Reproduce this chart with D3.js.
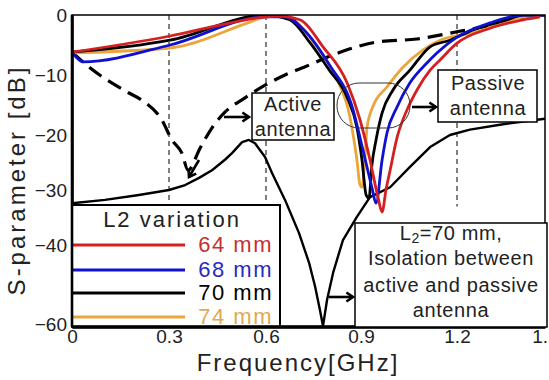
<!DOCTYPE html>
<html><head><meta charset="utf-8">
<script src="https://cdn.jsdelivr.net/npm/d3@7"></script>
<style>
html,body{margin:0;padding:0;background:#fff;}
svg{display:block;font-family:"Liberation Sans",Arial,sans-serif;}
</style></head>
<body><svg id="c" width="549" height="380"></svg>
<script>
// ---- data (frequency in GHz, S-parameter in dB) ----
const freqTicks = [0, 0.3, 0.6, 0.9, 1.2, 1.5];
const dbTicks = [0, -10, -20, -30, -40, -60];
const gridFreqs = [0.3, 0.6, 1.2];
const legendLabels = ["64 mm", "68 mm", "70 mm", "74 mm"];
const seriesColors = ["#d42020", "#1010d0", "#000000", "#eca43c"];
const legendTextColors = ["#c83030", "#2a2ac0", "#000000", "#e0aa50"];

const s11_64 = [[0,-6.2],[0.303,-3.5],[0.49,-1.3],[0.6,-0.3],[0.644,-0.2],[0.707,-0.8],[0.78,-5.3],[0.856,-11.3],[0.897,-17.5],[0.928,-24.5],[0.953,-31.3],[0.966,-34],[0.978,-30],[0.991,-26.4],[1.013,-20.4],[1.044,-15.8],[1.075,-12.5],[1.116,-9.2],[1.147,-7.5],[1.2,-4.7],[1.313,-2.2],[1.425,-0.8],[1.483,-0.3]];
const s11_68 = [[0,-6.2],[0.034,-7.8],[0.303,-5.0],[0.6,-0.3],[0.66,-0.3],[0.72,-2.5],[0.80,-8.3],[0.875,-15.8],[0.906,-22.7],[0.934,-29.5],[0.947,-32.4],[0.966,-24.5],[0.981,-19.7],[1.013,-15.3],[1.053,-11.3],[1.106,-8],[1.138,-6.3],[1.2,-3.7],[1.313,-1.3],[1.425,0],[1.5,0]];
const s11_70 = [[0,-6.2],[0.303,-4.2],[0.6,0],[0.675,-0.8],[0.74,-4.7],[0.80,-9.2],[0.856,-13.7],[0.887,-18.7],[0.903,-24.5],[0.916,-30.9],[0.925,-31.5],[0.934,-25.5],[0.947,-20.9],[0.966,-16.3],[1.0,-12.5],[1.053,-9.2],[1.116,-5.3],[1.178,-4.2],[1.255,-2.5],[1.37,-0.8],[1.425,0],[1.5,0]];
const s11_74 = [[0,-6.3],[0.303,-5.5],[0.55,-1.2],[0.6,-0.3],[0.66,-0.2],[0.707,-1.7],[0.76,-5.3],[0.82,-10.3],[0.865,-17],[0.887,-24.5],[0.897,-29.1],[0.903,-29.5],[0.912,-24.5],[0.919,-18.7],[0.937,-15.3],[0.981,-12],[1.031,-8.7],[1.094,-5.8],[1.147,-4.2],[1.255,-3],[1.37,-1.2],[1.425,-0.3],[1.5,0]];
const activeS11 = [[0,-6.2],[0.053,-8.7],[0.176,-13],[0.216,-14.2],[0.278,-17.5],[0.309,-20.9],[0.34,-23.3],[0.359,-26.4],[0.396,-22.4],[0.433,-18.8],[0.473,-16.2],[0.535,-13.8],[0.597,-11.7],[0.66,-10],[0.72,-8.7],[0.83,-6.3],[0.95,-4.5],[1.075,-4],[1.2,-2.8],[1.313,-1.7],[1.425,-0.3],[1.5,0]];
const isolation = [[0,-32.4],[0.102,-31.8],[0.207,-30.9],[0.3,-30],[0.35,-29.1],[0.393,-27.8],[0.433,-26.4],[0.473,-24.5],[0.495,-23.3],[0.526,-21.3],[0.547,-20.9],[0.566,-21.5],[0.597,-24],[0.619,-26.9],[0.66,-31.8],[0.704,-37.8],[0.736,-44.5],[0.755,-50.5],[0.77,-56.3],[0.78,-60.5],[0.793,-53.8],[0.812,-47],[0.843,-39.1],[0.887,-34.9],[0.928,-31.3],[0.991,-29.5],[1.053,-25.8],[1.116,-22.2],[1.178,-20],[1.244,-19.1],[1.357,-18.2],[1.5,-17.3]];
const s11Series = [s11_64, s11_68, s11_70, s11_74];

// ---- scales ----
const x = d3.scaleLinear().domain([0,0.3,0.6,0.9,1.2,1.5]).range([72,169,266,361,457,545]);
const y = d3.scaleLinear().domain([0,-10,-20,-30,-40,-60]).range([15,75,135,190,245,324]);
const x0 = x(0), x1 = x(1.5), yTop = y(0), yBot = y(-60.7);

const svg = d3.select("#c");
svg.append("defs").append("clipPath").attr("id","clip")
  .append("rect").attr("x",x0).attr("y",yTop).attr("width",x1-x0).attr("height",yBot-yTop);

// grid dashed lines
svg.append("g").selectAll("line").data(gridFreqs).join("line")
  .attr("x1",d=>x(d)).attr("x2",d=>x(d)).attr("y1",yTop).attr("y2",y(-33))
  .attr("stroke","#000").attr("stroke-width",1).attr("stroke-dasharray","5,4");

const plot = svg.append("g").attr("clip-path","url(#clip)");
const smooth = d3.line().x(d=>x(d[0])).y(d=>y(d[1])).curve(d3.curveMonotoneX);
const straight = d3.line().x(d=>x(d[0])).y(d=>y(d[1]));

plot.append("path").attr("d",straight(isolation)).attr("fill","none")
  .attr("stroke","#000").attr("stroke-width",2.4).attr("stroke-linejoin","round");
plot.append("path").attr("d",smooth(activeS11)).attr("fill","none")
  .attr("stroke","#000").attr("stroke-width",3.2).attr("stroke-dasharray","15,8");
[3,2,1,0].forEach(i=>{
  plot.append("path").attr("d",smooth(s11Series[i])).attr("fill","none")
    .attr("stroke",seriesColors[i]).attr("stroke-width",2.8).attr("stroke-linejoin","round");
});

// frame
svg.append("rect").attr("x",x0).attr("y",yTop).attr("width",x1-x0).attr("height",yBot-yTop)
  .attr("fill","none").attr("stroke","#000").attr("stroke-width",1.5);

// axes
const yAxis = svg.append("g").attr("transform",`translate(${x0},0)`)
  .call(d3.axisLeft(y).tickValues(dbTicks).tickSize(0).tickPadding(5).tickFormat(d3.format("d")));
yAxis.select(".domain").attr("stroke-width",2.6);
yAxis.selectAll("text").attr("font-size",19).attr("fill","#222").attr("font-family","Liberation Sans, Arial");
const xAxis = svg.append("g").attr("transform",`translate(0,${yBot})`)
  .call(d3.axisBottom(x).tickValues(freqTicks).tickSize(0).tickPadding(3).tickFormat(d=>d===0?"0":d3.format(".1f")(d)));
xAxis.select(".domain").attr("stroke-width",3);
xAxis.selectAll("text").attr("font-size",19).attr("fill","#222").attr("font-family","Liberation Sans, Arial");

// axis titles
svg.append("text").attr("x",298).attr("y",371).attr("text-anchor","middle").attr("fill","#222")
  .attr("font-size",24).attr("letter-spacing",2).text("Frequency[GHz]");
svg.append("text").attr("transform","translate(25,180) rotate(-90)").attr("text-anchor","middle").attr("fill","#222")
  .attr("font-size",24).attr("letter-spacing",3).text("S-parameter [dB]");

// legend
const lg = svg.append("g");
lg.append("rect").attr("x",x0).attr("y",205).attr("width",208).attr("height",yBot-205)
  .attr("fill","#fff").attr("stroke","#000").attr("stroke-width",2);
lg.append("text").attr("x",172).attr("y",227).attr("text-anchor","middle").attr("fill","#222")
  .attr("font-size",22).attr("letter-spacing",2).text("L2 variation");
const legY = [245, 270, 293, 317];
legendLabels.forEach((lab,i)=>{
  lg.append("line").attr("x1",x0).attr("x2",185).attr("y1",legY[i]).attr("y2",legY[i])
    .attr("stroke",seriesColors[i]).attr("stroke-width",3);
  lg.append("text").attr("x",273).attr("y",legY[i]+7).attr("text-anchor","end")
    .attr("font-size",22).attr("letter-spacing",1.5).attr("fill",legendTextColors[i]).text(lab);
});
svg.append("line").attr("x1",x0).attr("x2",x0).attr("y1",yTop).attr("y2",yBot).attr("stroke","#000").attr("stroke-width",2.6);
svg.append("line").attr("x1",x0).attr("x2",x1).attr("y1",yBot).attr("y2",yBot).attr("stroke","#000").attr("stroke-width",3);

// annotation boxes
function box(bx,by,w,h,lines,cx,baselines,fs){
  svg.append("rect").attr("x",bx).attr("y",by).attr("width",w).attr("height",h)
    .attr("fill","#fff").attr("stroke","#000").attr("stroke-width",1.5);
  lines.forEach((t,i)=>{
    const tx = svg.append("text").attr("x",cx).attr("y",baselines[i]).attr("text-anchor","middle")
      .attr("font-size",fs).attr("letter-spacing",0.6).attr("fill","#222");
    if (typeof t === "string") tx.text(t);
    else { tx.append("tspan").text(t[0]); tx.append("tspan").attr("font-size",fs*0.7).attr("dy",3).text(t[1]);
           tx.append("tspan").attr("dy",-3).text(t[2]); }
  });
}
box(252,93,82,47,["Active","antenna"],293,[111,136],20);
box(438,70,99,52,["Passive","antenna"],488,[90,115],20);
box(355,223,192,104,[["L","2","=70 mm,"],"Isolation between","active and passive","antenna"],451,[240,265,292,317],20);

// highlight ring around dips
svg.append("rect").attr("x",337).attr("y",83).attr("width",73).attr("height",45)
  .attr("rx",22).attr("ry",22).attr("fill","none").attr("stroke","#333").attr("stroke-width",1);

// arrows
function arrow(xa,ya,xb,yb){
  svg.append("line").attr("x1",xa).attr("y1",ya).attr("x2",xb).attr("y2",yb)
    .attr("stroke","#000").attr("stroke-width",2.6);
  const a = Math.atan2(yb-ya,xb-xa), L=8, s=0.6;
  svg.append("path").attr("d",`M${xb-L*Math.cos(a-s)},${yb-L*Math.sin(a-s)}L${xb},${yb}L${xb-L*Math.cos(a+s)},${yb-L*Math.sin(a+s)}`)
    .attr("fill","none").attr("stroke","#000").attr("stroke-width",2.6);
}
arrow(224,117,249,117);
arrow(412,107,436,107);
arrow(329,297,353,297);
arrow(199,160,189,177);
</script></body></html>
